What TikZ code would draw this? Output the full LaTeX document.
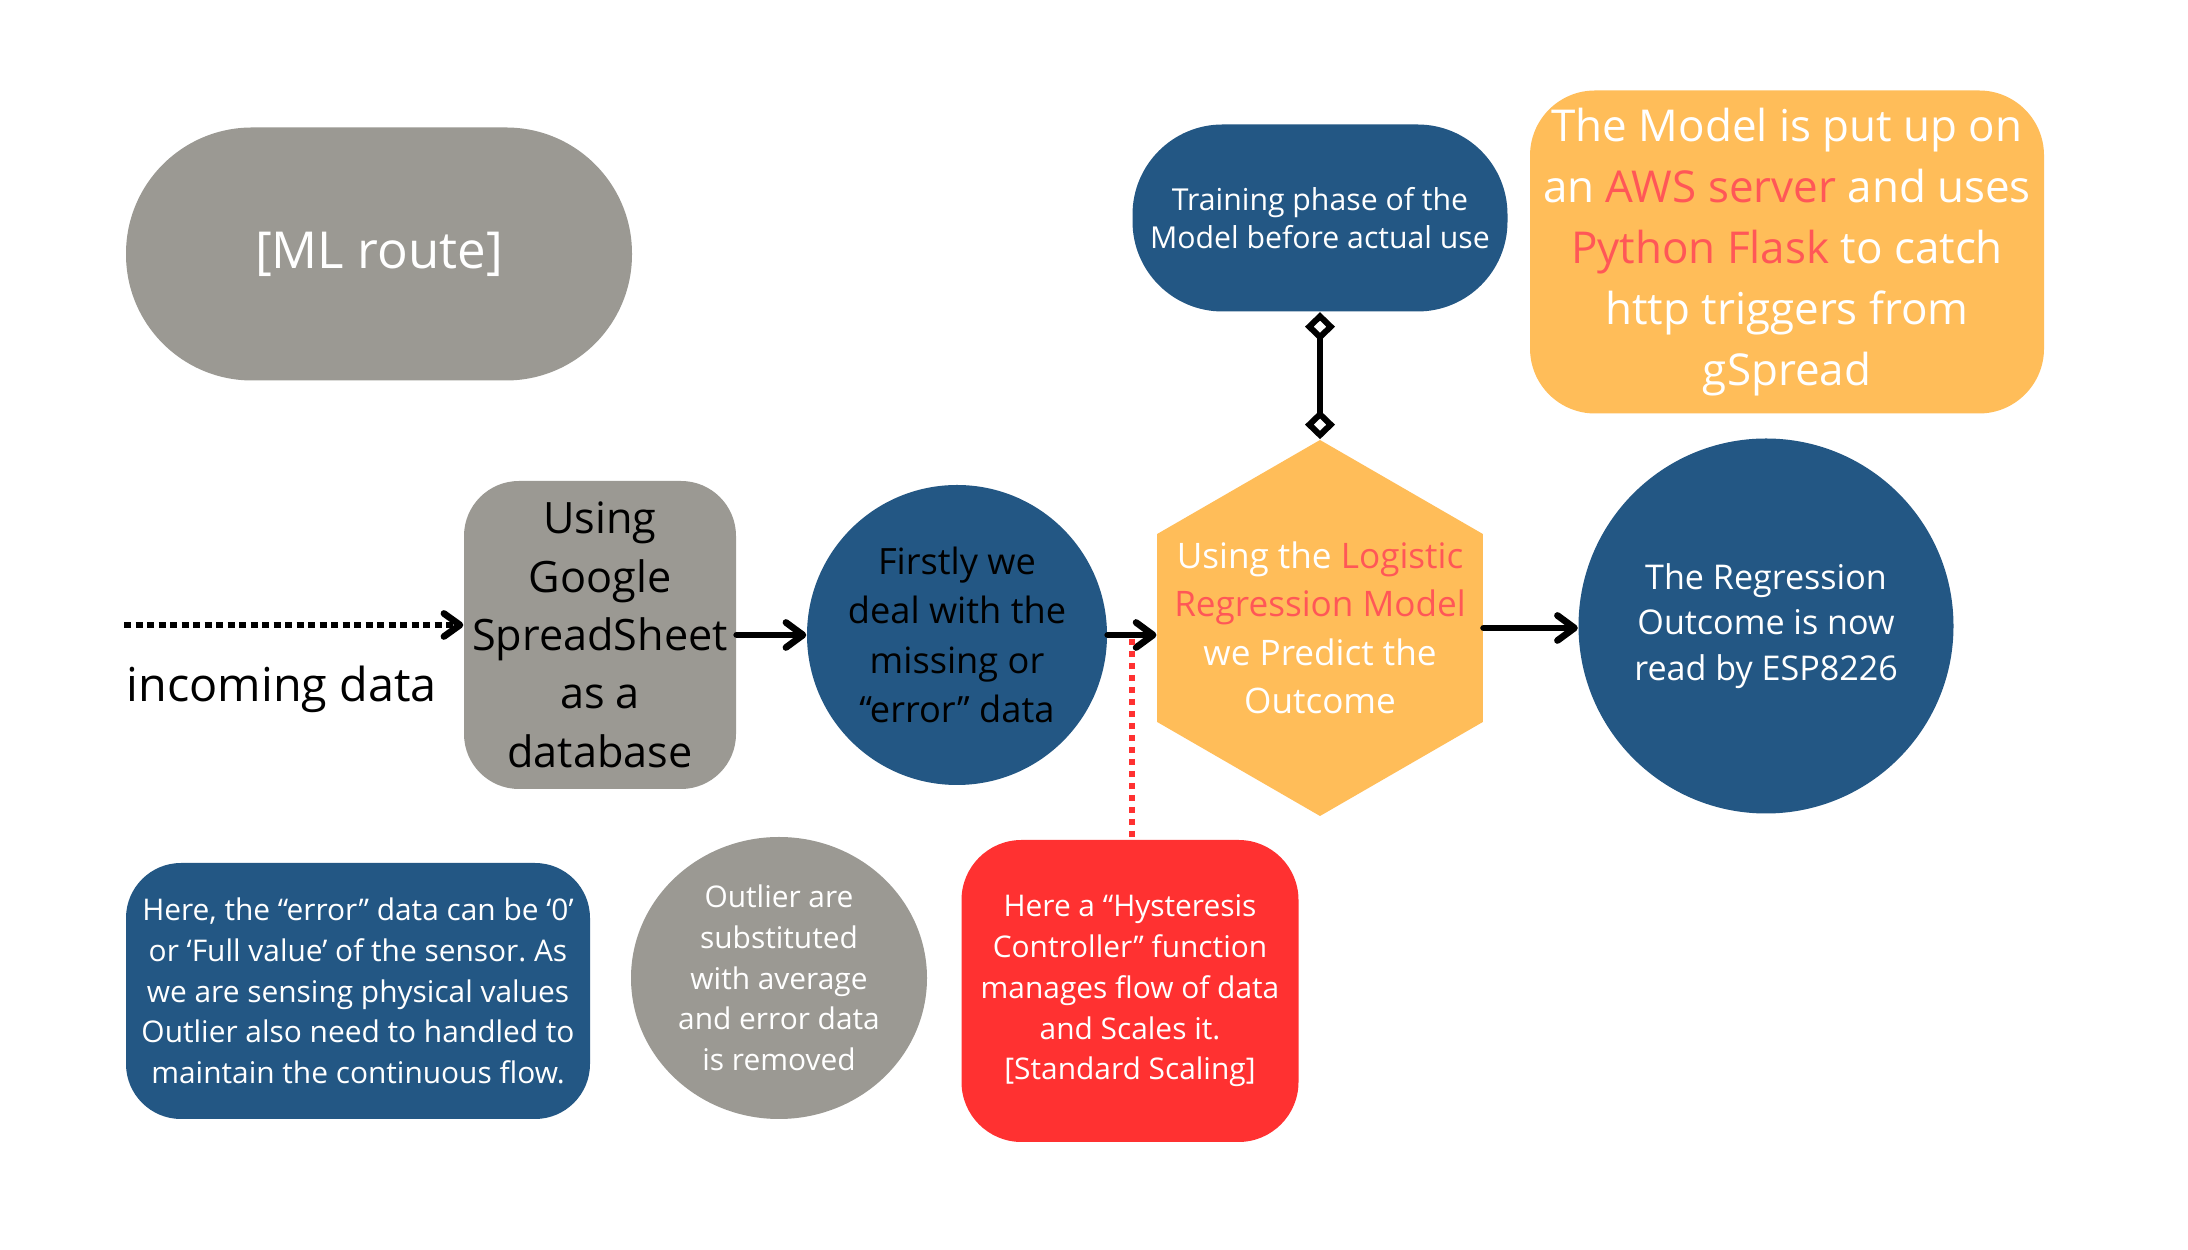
\documentclass[tikz,border=0pt]{standalone}
\usepackage{fontspec}
\setmainfont{Open Sans}
\usepackage{tikz}
\usetikzlibrary{arrows.meta,shapes.geometric}
\frenchspacing
\definecolor{routeblue}{HTML}{235784}
\definecolor{routegray}{HTML}{9B9993}
\definecolor{routeorange}{HTML}{FFBD59}
\definecolor{routered}{HTML}{FF3131}
\definecolor{hilite}{HTML}{FF5757}
\tikzstyle{connector} = [line width=0.67mm, line cap=round, -{Straight Barb[length=1.7mm,width=2.5mm,round]}]
\tikzstyle{dotconnector} = [line width=0.67mm, dash pattern=on 0.7mm off 0.45mm, -{Straight Barb[length=1.6mm,width=2.3mm,round]}]
\tikzstyle{reddots} = [draw=routered, line width=0.6mm, dash pattern=on 0.6mm off 0.6mm]
\tikzstyle{link} = [line width=0.6mm, {Diamond[open,length=2.9mm,width=3mm]}-{Diamond[open,length=2.9mm,width=3mm]}]
\tikzstyle{bubble} = [circle, fill=routeblue, inner sep=0pt, align=center]
\tikzstyle{notebox} = [rectangle, inner sep=0pt, align=center, text=white, font=\fontsize{8.5}{11.6}\selectfont]

\begin{document}
\begin{tikzpicture}
        \fill [white] (0,0) rectangle (21.88,12.5);
        \useasboundingbox (0,0) rectangle (21.88,12.5);
        \node (sheet) [rectangle, fill=routegray, rounded corners=0.55cm, minimum width=2.72cm, minimum height=3.08cm, inner sep=0pt, align=center, font=\fontsize{12.3}{16.6}\selectfont] at (6.00,6.15) {Using\\Google\\SpreadSheet\\as a\\database};
        \node (firstly) [bubble, right of=sheet, xshift=2.57cm, minimum size=3.0cm, font=\fontsize{10.3}{14}\selectfont] {Firstly we\\deal with the\\missing or\\“error” data};
        \node (hex) [regular polygon, regular polygon sides=6, shape border rotate=30, fill=routeorange, minimum size=3.76cm, inner sep=0pt, right of=firstly, xshift=2.63cm, yshift=0.07cm,
                     label={[text=white, align=center, font=\fontsize{10}{13.8}\selectfont]center:{Using the \textcolor{hilite}{Logistic}\\\textcolor{hilite}{Regression Model}\\we Predict the\\Outcome}}] {};
        \node (outcome) [bubble, right of=hex, xshift=3.46cm, yshift=0.02cm, minimum size=3.75cm, text=white, font=\fontsize{9.7}{13}\selectfont] {The Regression\\Outcome is now\\read by ESP8226};
        \node (training) [rectangle, fill=routeblue, rounded corners=0.9cm, above of=hex, yshift=3.10cm, minimum width=3.75cm, minimum height=1.87cm, inner sep=0pt, align=center, text=white, font=\fontsize{8.6}{11}\selectfont] {Training phase of the\\Model before actual use};
        \node (aws) [rectangle, fill=routeorange, rounded corners=0.65cm, above of=outcome, yshift=2.74cm, xshift=0.21cm, minimum width=5.14cm, minimum height=3.23cm, inner sep=0pt, align=center, text=white, font=\fontsize{12.5}{17.4}\selectfont] {The Model is put up on\\an \textcolor{hilite}{AWS server} and uses\\\textcolor{hilite}{Python Flask} to catch\\http triggers from\\gSpread};
        \node (mlroute) [rectangle, fill=routegray, rounded corners=1.26cm, minimum width=5.06cm, minimum height=2.53cm, text=white, font=\fontsize{14.5}{17}\selectfont] at (3.79,9.96) {[ML route]};
        \node (note) [notebox, fill=routeblue, rounded corners=0.55cm, below of=sheet, xshift=-2.42cm, yshift=-2.56cm, minimum width=4.64cm, minimum height=2.56cm] {Here, the “error” data can be ‘0’\\or ‘Full value’ of the sensor. As\\we are sensing physical values\\Outlier also need to handled to\\maintain the continuous flow.};
        \node (outlier) [notebox, ellipse, fill=routegray, below of=sheet, xshift=1.79cm, yshift=-2.43cm, minimum width=2.96cm, minimum height=2.82cm] {Outlier are\\substituted\\with average\\and error data\\is removed};
        \node (hyst) [notebox, fill=routered, rounded corners=0.6cm, below of=firstly, xshift=1.73cm, yshift=-2.56cm, minimum width=3.37cm, minimum height=3.02cm] {Here a “Hysteresis\\Controller” function\\manages flow of data\\and Scales it.\\{[Standard Scaling]}};
        \coordinate (start) at (1.24,6.25);
        \node (incoming) [anchor=base west, inner sep=0pt, font=\fontsize{13.3}{16}\selectfont] at (1.26,5.48) {incoming data};
        \draw [dotconnector] (start) -- (start -| sheet.west);
        \draw [connector] (sheet.east) -- (firstly.west);
        \draw [connector] (firstly.east) -- coordinate (tap) (firstly.east -| hex.west);
        \draw [reddots] ([yshift=-0.4mm]tap) -- (tap |- hyst.north);
        \draw [connector] (hex.east) -- (hex.east -| outcome.west);
        \draw [link] (training.south) -- (hex.north);
    \end{tikzpicture}
\end{document}
